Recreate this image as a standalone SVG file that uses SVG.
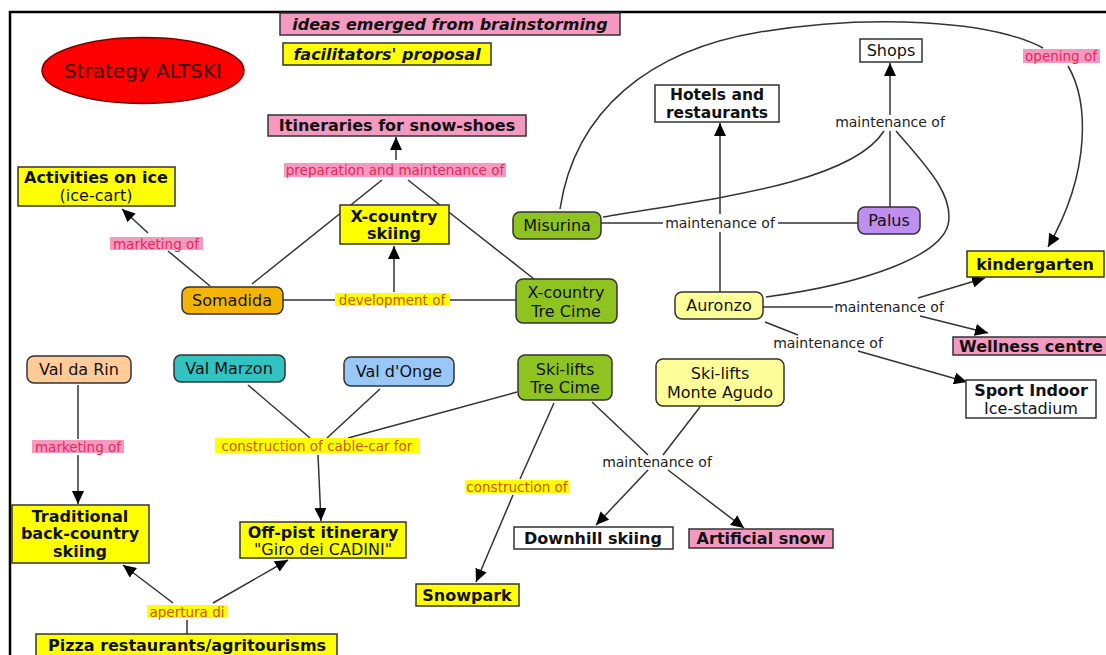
<svg xmlns="http://www.w3.org/2000/svg" width="1106" height="655" viewBox="0 0 1106 655">
<defs>
<marker id="arr" markerUnits="userSpaceOnUse" markerWidth="14" markerHeight="12" refX="13" refY="6" orient="auto">
<path d="M0,0 L13,6 L0,12 Z" fill="#000"/>
</marker>
<style>
text{font-family:"DejaVu Sans",Verdana,sans-serif;text-anchor:middle;dominant-baseline:central;fill:#111}
.n{font-size:16px}
.b{font-size:16px;font-weight:bold}
.bi{font-size:16px;font-weight:bold;font-style:italic}
.l{font-size:14px;fill:#222}
.lp{font-size:13.5px;fill:#e22a5a}
.ly{font-size:13.5px;fill:#cc5500}
.c{fill:none;stroke:#333;stroke-width:1.5}
.a{fill:none;stroke:#333;stroke-width:1.5;marker-end:url(#arr)}
.box{stroke:#333;stroke-width:1.5}
.pk{fill:#f49ac1}
.yw{fill:#ffff00}
.wh{fill:#fff}
.pkl{fill:#f49ac1}
.ywl{fill:#ffff00}
</style>
</defs>
<rect width="1106" height="655" fill="#fff"/>
<path d="M10,655 L10,12 L1106,12" fill="none" stroke="#000" stroke-width="2.5"/>

<g id="connectors">
<path class="c" d="M252,284 L382,180"/>
<path class="c" d="M534,279 L408,180"/>
<path class="a" d="M396,160 L396,137"/>
<path class="c" d="M210,286 L168,251"/>
<path class="a" d="M148,233 L122,209"/>
<path class="c" d="M283,300 L335,300"/>
<path class="c" d="M516,300 L450,300"/>
<path class="a" d="M394,292 L394,246"/>
<path class="c" d="M601,223 L663,223"/>
<path class="c" d="M858,223 L778,223"/>
<path class="c" d="M720,292 L720,232"/>
<path class="a" d="M720,214 L720,123"/>
<path class="c" d="M603,217 C700,200 850,185 884,131"/>
<path class="c" d="M890,207 L890,131"/>
<path class="c" d="M896,131 C925,165 955,195 948,225 C940,255 870,283 766,297"/>
<path class="a" d="M890,115 L890,63"/>
<path class="c" d="M560,209 C575,110 650,50 760,32 C870,14 990,20 1043,48"/>
<path class="a" d="M1068,66 C1088,100 1092,170 1048,247"/>
<path class="c" d="M763,307 L833,307"/>
<path class="a" d="M918,298 L985,278"/>
<path class="a" d="M920,316 L988,333"/>
<path class="c" d="M765,322 L798,335"/>
<path class="a" d="M858,351 L967,382"/>
<path class="c" d="M78,385 L78,439"/>
<path class="a" d="M78,455 L78,504"/>
<path class="c" d="M248,385 L310,438"/>
<path class="c" d="M380,389 L327,438"/>
<path class="c" d="M517,392 L348,438"/>
<path class="a" d="M318,455 L321,521"/>
<path class="c" d="M187,634 L187,620"/>
<path class="a" d="M173,603 L123,565"/>
<path class="a" d="M213,603 L288,560"/>
<path class="c" d="M554,403 L520,479"/>
<path class="a" d="M513,495 L476,582"/>
<path class="c" d="M592,402 L648,455"/>
<path class="c" d="M700,407 L663,455"/>
<path class="a" d="M648,470 L596,525"/>
<path class="a" d="M668,470 L744,528"/>
</g>

<g id="labels">
<g id="lbl-prep"><rect class="pkl" x="284" y="163" width="222" height="14"/><text class="lp" x="395" y="170">preparation and maintenance of</text></g>
<g id="lbl-mkt1"><rect class="pkl" x="110" y="237" width="93" height="13"/><text class="lp" x="156" y="243.5">marketing of</text></g>
<g id="lbl-dev"><rect class="ywl" x="335" y="293" width="115" height="13"/><text class="ly" x="392" y="299.5">development of</text></g>
<g id="lbl-open"><rect class="pkl" x="1023" y="49" width="77" height="14"/><text class="lp" x="1061" y="56">opening of</text></g>
<g id="lbl-mA"><text class="l" x="720" y="223">maintenance of</text></g>
<g id="lbl-mB"><text class="l" x="890" y="122">maintenance of</text></g>
<g id="lbl-mC"><text class="l" x="889" y="307">maintenance of</text></g>
<g id="lbl-mD"><text class="l" x="828" y="343">maintenance of</text></g>
<g id="lbl-mE"><text class="l" x="657" y="462">maintenance of</text></g>
<g id="lbl-mkt2"><rect class="pkl" x="32" y="440" width="92" height="13"/><text class="lp" x="78" y="446.5">marketing of</text></g>
<g id="lbl-cable"><rect class="ywl" x="215" y="438" width="205" height="15"/><text class="ly" x="317" y="445.5">construction of cable-car for</text></g>
<g id="lbl-apert"><rect class="ywl" x="147" y="605" width="81" height="13"/><text class="ly" x="187" y="611.5">apertura di</text></g>
<g id="lbl-constr"><rect class="ywl" x="465" y="480" width="104" height="13"/><text class="ly" x="517" y="486.5">construction of</text></g>
</g>

<g id="legend-ideas"><rect class="box pk" x="280" y="13" width="340" height="22"/><text class="bi" x="450" y="24">ideas emerged from brainstorming</text></g>
<g id="legend-facil"><rect class="box yw" x="283" y="43" width="208" height="22"/><text class="bi" x="387" y="54">facilitators' proposal</text></g>
<g id="strategy"><ellipse cx="143" cy="70.5" rx="101" ry="33" fill="#ff0000" stroke="#7a0000" stroke-width="1.5"/><text x="143" y="71" style="font-size:20px;fill:#3a0000">Strategy ALTSKI</text></g>

<g id="itineraries"><rect class="box pk" x="268" y="115" width="258" height="21"/><text class="b" x="397" y="125.5">Itineraries for snow-shoes</text></g>
<g id="activities"><rect class="box yw" x="18" y="167" width="157" height="39"/><text class="b" x="96" y="177.5">Activities on ice</text><text class="n" x="96" y="195">(ice-cart)</text></g>
<g id="xc-skiing"><rect class="box yw" x="340" y="205" width="109" height="39"/><text class="b" x="394" y="216">X-country</text><text class="b" x="394" y="233">skiing</text></g>
<g id="somadida"><rect class="box" x="182" y="287" width="101" height="27" rx="7" fill="#f5b400"/><text class="n" x="232" y="300.5">Somadida</text></g>
<g id="xc-trecime"><rect class="box" x="516" y="279" width="101" height="44" rx="7" fill="#8fc31f"/><text class="n" x="566" y="292">X-country</text><text class="n" x="566" y="311">Tre Cime</text></g>
<g id="misurina"><rect class="box" x="513" y="212" width="88" height="27" rx="7" fill="#8fc31f"/><text class="n" x="557" y="225.5">Misurina</text></g>
<g id="palus"><rect class="box" x="858" y="207" width="62" height="27" rx="7" fill="#bf8ff0"/><text class="n" x="889" y="220.5">Palus</text></g>
<g id="hotels"><rect class="box wh" x="655" y="85" width="124" height="37"/><text class="b" x="717" y="94.5" style="font-size:15.5px">Hotels and</text><text class="b" x="717" y="112.5" style="font-size:15.5px">restaurants</text></g>
<g id="shops"><rect class="box wh" x="860" y="39" width="62" height="23"/><text class="n" x="891" y="50.5">Shops</text></g>
<g id="kindergarten"><rect class="box yw" x="967" y="251" width="137" height="26"/><text class="b" x="1035" y="264">kindergarten</text></g>
<g id="auronzo"><rect class="box" x="675" y="292" width="88" height="27" rx="7" fill="#ffff99"/><text class="n" x="719" y="305.5">Auronzo</text></g>
<g id="wellness"><rect class="box pk" x="953" y="337" width="158" height="18"/><text class="b" x="1031" y="346">Wellness centre</text></g>
<g id="sport-indoor"><rect class="box wh" x="966" y="380" width="130" height="38"/><text class="b" x="1031" y="390.5">Sport Indoor</text><text class="n" x="1031" y="408">Ice-stadium</text></g>

<g id="val-da-rin"><rect class="box" x="27" y="356" width="104" height="27" rx="7" fill="#ffcc99"/><text class="n" x="79" y="369.5">Val da Rin</text></g>
<g id="val-marzon"><rect class="box" x="174" y="355" width="111" height="27" rx="7" fill="#31c2c2"/><text class="n" x="229" y="368.5">Val Marzon</text></g>
<g id="val-donge"><rect class="box" x="344" y="357" width="110" height="29" rx="7" fill="#99c8f8"/><text class="n" x="399" y="371.5">Val d'Onge</text></g>
<g id="skilifts-trecime"><rect class="box" x="518" y="355" width="94" height="45" rx="7" fill="#8fc31f"/><text class="n" x="565" y="369">Ski-lifts</text><text class="n" x="565" y="387">Tre Cime</text></g>
<g id="skilifts-agudo"><rect class="box" x="656" y="359" width="128" height="47" rx="7" fill="#ffff99"/><text class="n" x="720" y="373">Ski-lifts</text><text class="n" x="720" y="392">Monte Agudo</text></g>
<g id="traditional"><rect class="box yw" x="12" y="505" width="137" height="58"/><text class="b" x="80" y="516">Traditional</text><text class="b" x="80" y="533.5">back-country</text><text class="b" x="80" y="551">skiing</text></g>
<g id="off-pist"><rect class="box yw" x="240" y="522" width="166" height="36"/><text class="b" x="323" y="532">Off-pist itinerary</text><text class="n" x="323" y="549">"Giro dei CADINI"</text></g>
<g id="pizza"><rect class="box yw" x="36" y="634" width="301" height="25"/><text class="b" x="187" y="645">Pizza restaurants/agritourisms</text></g>
<g id="snowpark"><rect class="box yw" x="416" y="584" width="103" height="22"/><text class="b" x="467" y="595">Snowpark</text></g>
<g id="downhill"><rect class="box wh" x="514" y="527" width="159" height="22"/><text class="b" x="593" y="538">Downhill skiing</text></g>
<g id="artificial"><rect class="box pk" x="689" y="529" width="144" height="19"/><text class="b" x="761" y="538.5">Artificial snow</text></g>
</svg>
